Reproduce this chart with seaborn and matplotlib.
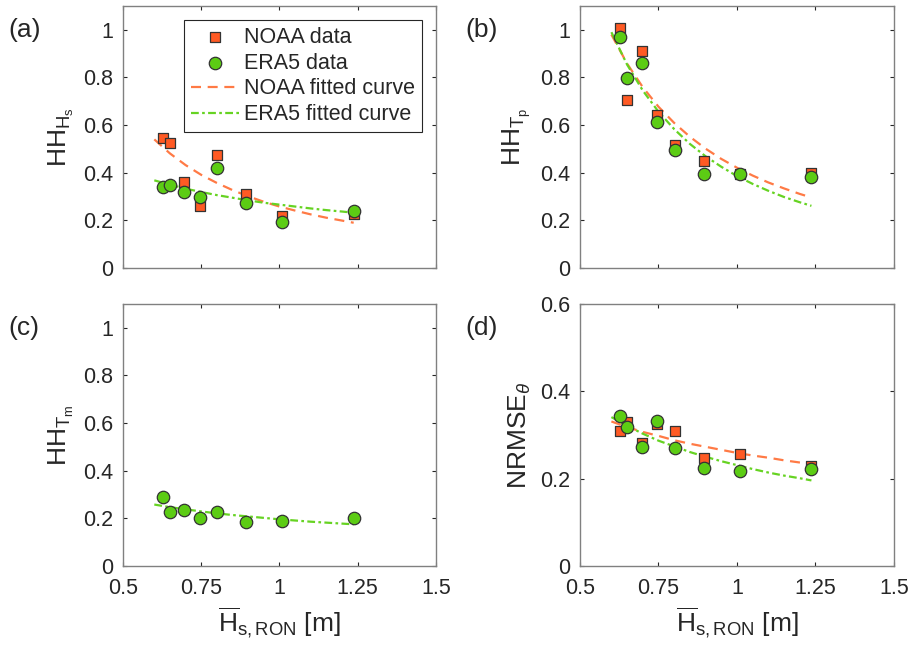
import numpy as np
import pandas as pd
import matplotlib
matplotlib.use('Agg')
import matplotlib.pyplot as plt
import seaborn as sns

# mean Hs at RON [m] for the eight cases
hs_ron = [0.627, 0.649, 0.696, 0.745, 0.801, 0.894, 1.008, 1.237]

# (a) HH of Hs
noaa_hs = [0.544, 0.526, 0.363, 0.261, 0.473, 0.312, 0.219, 0.226]
era5_hs = [0.342, 0.349, 0.317, 0.296, 0.418, 0.275, 0.194, 0.238]
# (b) HH of Tp
noaa_tp = [1.007, 0.704, 0.913, 0.642, 0.516, 0.448, 0.395, 0.400]
era5_tp = [0.970, 0.798, 0.862, 0.611, 0.497, 0.395, 0.395, 0.381]
# (c) HH of Tm (ERA5 only)
era5_tm = [0.290, 0.226, 0.237, 0.200, 0.225, 0.183, 0.191, 0.203]
# (d) NRMSE of direction
noaa_th = [0.309, 0.329, 0.281, 0.325, 0.309, 0.248, 0.256, 0.230]
era5_th = [0.343, 0.318, 0.272, 0.333, 0.271, 0.225, 0.217, 0.221]

# fitted curves, values
fit_x = [0.6, 0.65, 0.7, 0.75, 0.8, 0.85, 0.9, 0.95, 1.0, 1.05, 1.1, 1.15, 1.2, 1.237]
fit_noaa_hs = [0.540, 0.481, 0.432, 0.391, 0.357, 0.327, 0.301, 0.278, 0.258, 0.241, 0.225, 0.211, 0.199, 0.190]
fit_era5_hs = [0.368, 0.350, 0.333, 0.319, 0.306, 0.295, 0.284, 0.274, 0.266, 0.258, 0.250, 0.243, 0.237, 0.232]
fit_noaa_tp = [0.980, 0.858, 0.759, 0.677, 0.609, 0.551, 0.501, 0.458, 0.421, 0.388, 0.359, 0.334, 0.311, 0.296]
fit_era5_tp = [0.990, 0.854, 0.745, 0.656, 0.583, 0.521, 0.469, 0.425, 0.386, 0.353, 0.324, 0.298, 0.276, 0.261]
fit_era5_tm = [0.258, 0.247, 0.238, 0.229, 0.221, 0.214, 0.208, 0.202, 0.196, 0.191, 0.186, 0.182, 0.178, 0.175]
fit_noaa_th = [0.331, 0.318, 0.307, 0.298, 0.288, 0.280, 0.273, 0.266, 0.259, 0.253, 0.248, 0.242, 0.237, 0.234]
fit_era5_th = [0.341, 0.321, 0.303, 0.287, 0.274, 0.261, 0.250, 0.240, 0.231, 0.222, 0.214, 0.207, 0.201, 0.196]

sns.set_style('ticks')
plt.rcParams['font.family'] = ['Liberation Sans', 'DejaVu Sans']
plt.rcParams['mathtext.fontset'] = 'custom'
plt.rcParams['mathtext.rm'] = 'Liberation Sans'
plt.rcParams['mathtext.it'] = 'Liberation Sans:italic'
plt.rcParams['mathtext.sf'] = 'Liberation Sans'

ORANGE = '#ff5a24'
GREEN = '#5ccc14'
ORANGE_LINE = '#ff7a45'
GREEN_LINE = '#66d322'
AX_COL = '#262626'
FS = 15.5
LFS = 19

fig = plt.figure(figsize=(9.12, 6.45), dpi=100)
W, H = 912, 645


def make_ax(l, r, t, b):
    return fig.add_axes([l / W, (H - b) / H, (r - l) / W, (b - t) / H])


ax_a = make_ax(123, 436, 6, 268)
ax_b = make_ax(580, 894, 6, 268)
ax_c = make_ax(123, 436, 304, 566)
ax_d = make_ax(580, 894, 304, 566)

panels = [
    (ax_a, noaa_hs, era5_hs, fit_noaa_hs, fit_era5_hs, r'$\mathrm{HH}_{\mathrm{H}_{\mathrm{s}}}$', 1.1, '(a)'),
    (ax_b, noaa_tp, era5_tp, fit_noaa_tp, fit_era5_tp, r'$\mathrm{HH}_{\mathrm{T}_{\mathrm{p}}}$', 1.1, '(b)'),
    (ax_c, None, era5_tm, None, fit_era5_tm, r'$\mathrm{HH}_{\mathrm{T}_{\mathrm{m}}}$', 1.1, '(c)'),
    (ax_d, noaa_th, era5_th, fit_noaa_th, fit_era5_th, r'NRMSE$_{\theta}$', 0.6, '(d)'),
]

for ax, noaa, era5, fnoaa, fera5, ylab, ytop, tag in panels:
    if noaa is not None:
        sns.scatterplot(x=hs_ron, y=noaa, ax=ax, marker='s', s=52, color=ORANGE,
                        edgecolor='#333333', linewidth=0.9, zorder=3, label='NOAA data')
    sns.scatterplot(x=hs_ron, y=era5, ax=ax, marker='o', s=80, color=GREEN,
                    edgecolor='#333333', linewidth=0.9, zorder=4, label='ERA5 data')
    if fnoaa is not None:
        sns.lineplot(x=fit_x, y=fnoaa, ax=ax, color=ORANGE_LINE, lw=1.6,
                     zorder=2, label='NOAA fitted curve').lines[-1].set_dashes([4.5, 3])
    ln = sns.lineplot(x=fit_x, y=fera5, ax=ax, color=GREEN_LINE, lw=1.6,
                      zorder=2, label='ERA5 fitted curve').lines[-1]
    ln.set_dashes([3.5, 1.5, 1.2, 1.5])

    ax.set_xlim(0.5, 1.5)
    ax.set_ylim(0, ytop)
    ax.set_xticks([0.5, 0.75, 1, 1.25, 1.5])
    if ytop > 1:
        ax.set_yticks([0, 0.2, 0.4, 0.6, 0.8, 1])
        ax.set_yticklabels(['0', '0.2', '0.4', '0.6', '0.8', '1'])
    else:
        ax.set_yticks([0, 0.2, 0.4, 0.6])
        ax.set_yticklabels(['0', '0.2', '0.4', '0.6'])
    ax.tick_params(direction='in', top=True, right=True, length=3, width=0.8,
                   colors=AX_COL, labelsize=FS)
    ax.tick_params(axis='y', pad=7)
    ax.tick_params(axis='x', pad=9)
    for sp in ax.spines.values():
        sp.set_visible(True)
        sp.set_color('#808080')
        sp.set_linewidth(1.0)
    ax.set_ylabel(ylab, fontsize=LFS, color=AX_COL, labelpad=5)
    ax.text(-0.365, 0.91, tag, transform=ax.transAxes, fontsize=LFS,
            color=AX_COL, ha='left', va='center')
    if ax in (ax_a, ax_b):
        ax.set_xticklabels([])
    else:
        ax.set_xticklabels(['0.5', '0.75', '1', '1.25', '1.5'])
        ax.set_xlabel(r'$\overline{\mathrm{H}}_{\mathrm{s,RON}}$ [m]', fontsize=LFS,
                      color=AX_COL, labelpad=4)
    if ax is not ax_a and ax.get_legend() is not None:
        ax.get_legend().remove()

leg = ax_a.legend(loc='upper right', bbox_to_anchor=(0.955, 0.945), fontsize=FS,
                  frameon=True, fancybox=False, edgecolor=AX_COL, framealpha=1,
                  handlelength=2.3, handletextpad=0.2, borderpad=0.3,
                  labelspacing=0.22, borderaxespad=0)
leg.get_frame().set_linewidth(0.8)
for t in leg.get_texts():
    t.set_color(AX_COL)

fig.savefig('out.png', dpi=100, facecolor='white')
